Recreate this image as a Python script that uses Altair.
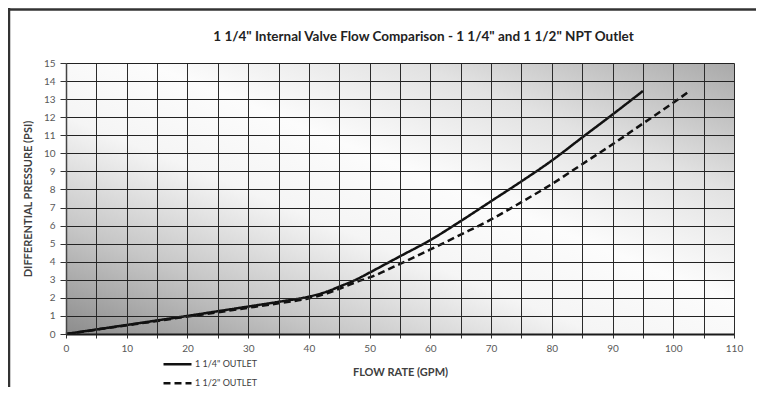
import altair as alt
import pandas as pd

# ---- data ----
series = ['1 1/4" OUTLET', '1 1/2" OUTLET']

flow_a = [0, 5, 10, 15, 20, 25, 30, 35, 40, 43, 45, 48, 50, 55, 60, 65, 70, 75, 80, 85, 90, 95]
psi_a = [0, 0.25, 0.5, 0.75, 1.0, 1.26, 1.52, 1.78, 2.07, 2.35, 2.62, 3.05, 3.4, 4.3, 5.2, 6.25,
         7.35, 8.45, 9.6, 10.88, 12.15, 13.45]

flow_b = [0, 5, 10, 15, 20, 25, 30, 35, 40, 43, 45, 48, 50, 55, 60, 65, 70, 75, 80, 85, 90, 95,
          100, 102.4]
psi_b = [0, 0.24, 0.48, 0.72, 0.97, 1.2, 1.45, 1.7, 1.98, 2.25, 2.5, 2.9, 3.13, 3.88, 4.68, 5.5,
         6.34, 7.3, 8.3, 9.4, 10.5, 11.65, 12.8, 13.38]

x_ticks = list(range(0, 111, 5))
y_ticks = list(range(0, 16))
x_domain = [0, 110]
y_domain = [0, 15]
title_text = ['1 1/4" Internal Valve Flow Comparison - 1 1/4" and 1 1/2" NPT Outlet']

df = pd.concat([
    pd.DataFrame({"flow": flow_a, "psi": psi_a, "series": series[0]}),
    pd.DataFrame({"flow": flow_b, "psi": psi_b, "series": series[1]}),
])
bg = pd.DataFrame({"x": [x_domain[0]], "x2": [x_domain[1]], "y": [y_domain[0]], "y2": [y_domain[1]]})
dummy = pd.DataFrame({"a": [0]})
title_df = pd.DataFrame({"t": title_text})

FONT = "Lato"
W, H = 668, 271

xscale = alt.Scale(domain=x_domain, nice=False, zero=False)
yscale = alt.Scale(domain=y_domain, nice=False, zero=False)

xaxis = alt.Axis(
    values=x_ticks,
    labelExpr="datum.value % 10 == 0 ? datum.label : ''",
    labelFlush=False, labelOverlap=False,
    grid=True, gridColor="#2b2b2b", gridOpacity=1, gridWidth=1,
    ticks=True, tickColor="#333333", tickSize=4, tickWidth=1,
    domain=True, domainColor="#1a1a1a", domainWidth=2,
    labelFont=FONT, labelFontSize=10, labelColor="#595959", labelPadding=5,
    title="FLOW RATE (GPM)", titleFont=FONT, titleFontSize=11, titleFontWeight="bold",
    titleColor="#404040", titlePadding=13, zindex=1,
)
yaxis = alt.Axis(
    values=y_ticks, labelOverlap=False, labelFlush=False,
    grid=True, gridColor="#222222", gridOpacity=1, gridWidth=1,
    ticks=True, tickColor="#333333", tickSize=6, tickWidth=1,
    domain=True, domainColor="#444444", domainWidth=1.5,
    labelFont=FONT, labelFontSize=10, labelColor="#595959", labelPadding=5,
    title="DIFFERENTIAL PRESSURE (PSI)", titleFont=FONT, titleFontSize=11,
    titleFontWeight="bold", titleColor="#404040", titlePadding=10, zindex=1,
)

grad = alt.Gradient(
    gradient="linear", x1=0, y1=1, x2=1, y2=0,
    stops=[
        alt.GradientStop(color="#8c8c8c", offset=0),
        alt.GradientStop(color="#c6c6c6", offset=0.2),
        alt.GradientStop(color="#f5f5f5", offset=0.4),
        alt.GradientStop(color="#fcfcfc", offset=0.56),
        alt.GradientStop(color="#e2e2e2", offset=0.76),
        alt.GradientStop(color="#a9a9a9", offset=1),
    ],
)

X = alt.X("x:Q", scale=xscale, axis=xaxis)
Y = alt.Y("y:Q", scale=yscale, axis=yaxis)

background = alt.Chart(bg).mark_rect(color=grad).encode(x=X, x2="x2:Q", y=Y, y2="y2:Q")

lines = alt.Chart(df).mark_line(color="#111111", strokeWidth=2.5, interpolate="monotone").encode(
    x=alt.X("flow:Q", scale=xscale, axis=xaxis),
    y=alt.Y("psi:Q", scale=yscale, axis=yaxis),
    strokeDash=alt.StrokeDash(
        "series:N",
        scale=alt.Scale(domain=series, range=[[1, 0], [7, 4]]),
        legend=alt.Legend(
            title=None, orient="none", legendX=96, legendY=292,
            symbolType="stroke", symbolSize=784, symbolStrokeWidth=2.5,
            symbolStrokeColor="#111111", clipHeight=18.5, rowPadding=0,
            labelFont=FONT, labelFontSize=9, labelColor="#404040", labelOffset=2,
            padding=0,
        ),
    ),
    order="flow:Q",
)

title_mark = alt.Chart(title_df).mark_text(
    font=FONT, fontSize=13.5, fontWeight="bold", color="#222222",
    align="center", baseline="middle",
).encode(text="t:N", x=alt.value(357.5), y=alt.value(-26.5))

# decorative outer frame
frame_left = alt.Chart(dummy).mark_rule(color="#333333", strokeWidth=2.5).encode(
    x=alt.value(-57), y=alt.value(-56), y2=alt.value(330)
)
frame_top = alt.Chart(dummy).mark_rule(color="#333333", strokeWidth=2.5).encode(
    x=alt.value(-58), x2=alt.value(690), y=alt.value(-53.5)
)

chart = alt.layer(background, lines, title_mark, frame_left, frame_top).properties(
    width=W, height=H,
    padding={"left": 58, "top": 55, "right": 22, "bottom": 53},
    autosize=alt.AutoSizeParams(type="none"),
).configure_view(stroke="#222222", strokeWidth=2).configure(background="white")

chart.save("out.html", embed_options={"renderer": "svg", "actions": False})
